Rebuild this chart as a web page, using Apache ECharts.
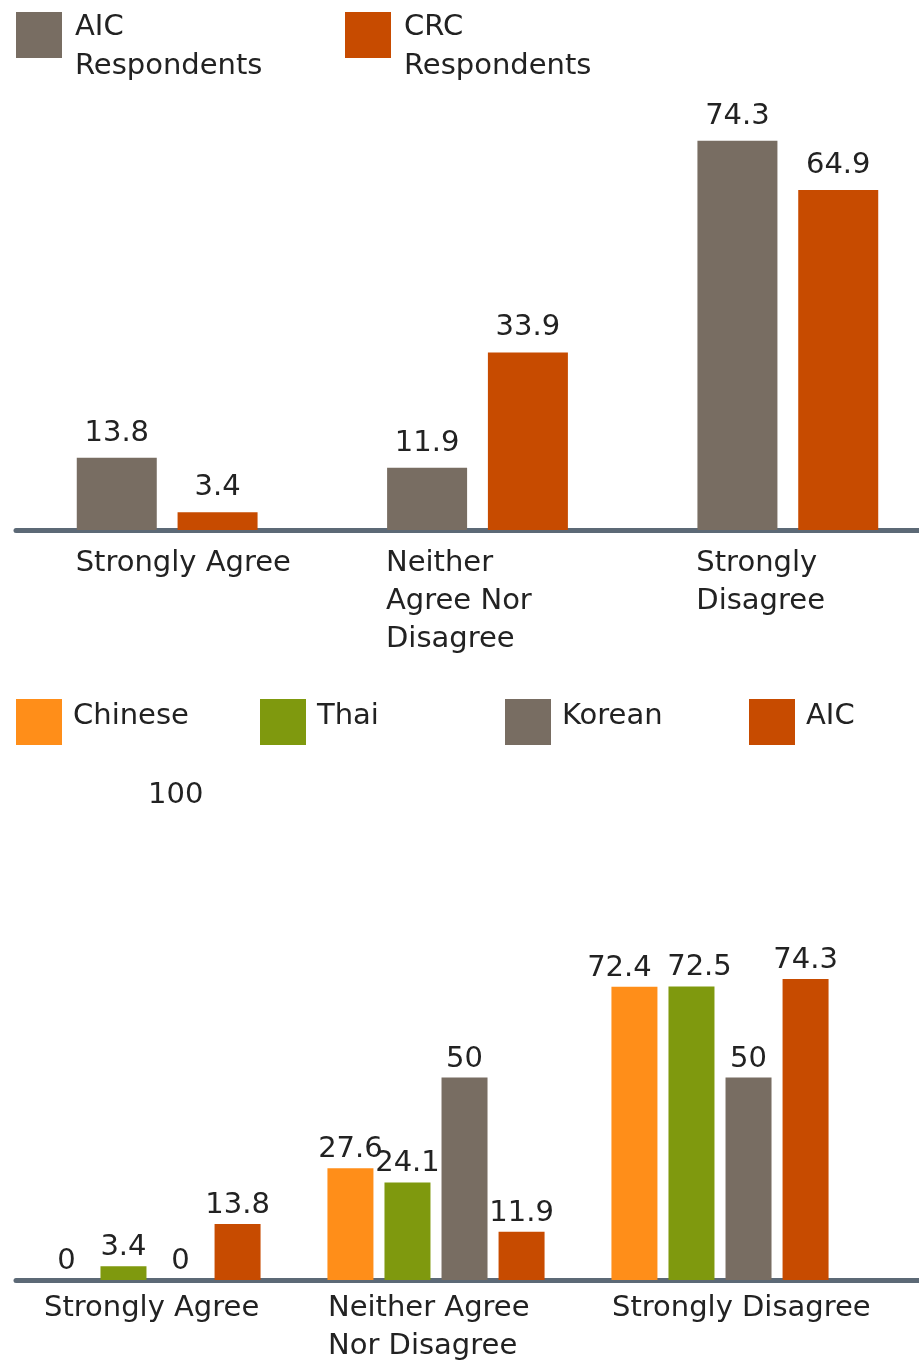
<!DOCTYPE html>
<html>
<head>
<meta charset="utf-8">
<script src="https://cdn.jsdelivr.net/npm/echarts@6/dist/echarts.min.js"></script>
<style>html,body{margin:0;padding:0;background:#fff;}#c{width:919px;height:1363px;}</style>
</head>
<body>
<div id="c"></div>
<script>
// ---- data ----
const topCategories = ['Strongly Agree', 'Neither Agree Nor Disagree', 'Strongly Disagree'];
const topTickLabels = ['Strongly Agree', 'Neither\nAgree Nor\nDisagree', 'Strongly\nDisagree'];
const topSeriesNames = ['AIC Respondents', 'CRC Respondents'];
const aicRespondents = [13.8, 11.9, 74.3];
const crcRespondents = [3.4, 33.9, 64.9];

const botCategories = ['Strongly Agree', 'Neither Agree Nor Disagree', 'Strongly Disagree'];
const botTickLabels = ['Strongly Agree', 'Neither Agree\nNor Disagree', 'Strongly Disagree'];
const botSeriesNames = ['Chinese', 'Thai', 'Korean', 'AIC'];
const chinese = [0, 27.6, 72.4];
const thai = [3.4, 24.1, 72.5];
const korean = [0, 50, 50];
const aic = [13.8, 11.9, 74.3];
const botAxisMaxLabel = '100';

// ---- style ----
const FONT = 'DejaVu Sans';
const TXT = '#222222';
const GREY = '#786D62';
const RUST = '#C74B00';
const ORANGE = '#FF8E19';
const OLIVE = '#7F990E';
const AXIS = '#5C6976';
// horizontal label nudges (style only), per series / category index
const labelNudge = {Chinese: {2: -15}, Thai: {2: 8}};
// legend swatch shapes: square plus a tiny invisible dot that extends the icon box
const ICON_TOP = 'path://M0,0H46V46H0Z M0,70H0.01V70.01H0Z';
const ICON_BOT = 'path://M0,12H46V58H0Z M0,0H0.01V0.01H0Z';

const chart = echarts.init(document.getElementById('c'), null, {renderer: 'canvas'});

function tickFormatter(labels) {
  return function (v, i) {
    return labels[i].split('\n').map(l => '{a|' + l + '}').join('\n');
  };
}

function legendTop(name, left, top) {
  return {
    data: [name], left: left, top: top, padding: 0, itemWidth: 46, itemHeight: 70,
    icon: ICON_TOP, symbolKeepAspect: false, selectedMode: false,
    formatter: n => n.replace(' ', '\n'),
    textStyle: {fontFamily: FONT, fontSize: 29, color: TXT, lineHeight: 39, padding: [0, 0, 0, 8]}
  };
}
function legendBot(name, left, top) {
  return {
    data: [name], left: left, top: top, padding: 0, itemWidth: 46, itemHeight: 58,
    icon: ICON_BOT, symbolKeepAspect: false, selectedMode: false,
    textStyle: {fontFamily: FONT, fontSize: 29, color: TXT, lineHeight: 39, padding: [0, 0, 0, 6]}
  };
}

const labelStyle = (dist) => ({
  show: true, position: 'top', distance: dist,
  fontFamily: FONT, fontSize: 29, color: TXT
});

function barData(name, values) {
  const nudge = labelNudge[name] || {};
  return values.map((v, i) => nudge[i] !== undefined ? {value: v, label: {offset: [nudge[i], 0]}} : v);
}

const option = {
  animation: false,
  backgroundColor: '#ffffff',
  title: {
    text: botAxisMaxLabel, left: 148, top: 781, padding: 0,
    textStyle: {fontFamily: FONT, fontSize: 29, fontWeight: 'normal', color: TXT}
  },
  legend: [
    legendTop(topSeriesNames[0], 16, 8),
    legendTop(topSeriesNames[1], 345, 8),
    legendBot(botSeriesNames[0], 16, 687),
    legendBot(botSeriesNames[1], 260, 687),
    legendBot(botSeriesNames[2], 505, 687),
    legendBot(botSeriesNames[3], 749, 687)
  ],
  grid: [
    {left: 12, width: 931, top: 111, bottom: 833, outerBoundsMode: 'none'},
    {left: 16, right: 0, top: 111, bottom: 833, outerBoundsMode: 'none'},
    {left: 10, width: 852, top: 875, bottom: 83, outerBoundsMode: 'none'},
    {left: 16, right: 0, top: 875, bottom: 83, outerBoundsMode: 'none'}
  ],
  xAxis: [
    {
      gridIndex: 0, type: 'category', data: topCategories,
      axisLine: {show: false}, axisTick: {show: false},
      axisLabel: {
        margin: 14, align: 'center', formatter: tickFormatter(topTickLabels),
        rich: {a: {width: 183, align: 'left', fontFamily: FONT, fontSize: 29, lineHeight: 38, color: TXT}}
      }
    },
    {
      gridIndex: 1, type: 'value', min: 0, max: 1,
      axisLine: {show: true, lineStyle: {color: AXIS, width: 5}},
      axisTick: {show: false}, axisLabel: {show: false}, splitLine: {show: false}
    },
    {
      gridIndex: 2, type: 'category', data: botCategories,
      axisLine: {show: false}, axisTick: {show: false},
      axisLabel: {
        margin: 9, align: 'center', formatter: tickFormatter(botTickLabels),
        rich: {a: {width: 216, align: 'left', fontFamily: FONT, fontSize: 29, lineHeight: 38, color: TXT}}
      }
    },
    {
      gridIndex: 3, type: 'value', min: 0, max: 1,
      axisLine: {show: true, lineStyle: {color: AXIS, width: 5}},
      axisTick: {show: false}, axisLabel: {show: false}, splitLine: {show: false}
    }
  ],
  yAxis: [
    {gridIndex: 0, type: 'value', min: 0, max: 80, show: false},
    {gridIndex: 1, type: 'value', show: false},
    {gridIndex: 2, type: 'value', min: 0, max: 100, show: false},
    {gridIndex: 3, type: 'value', show: false}
  ],
  series: [
    {name: topSeriesNames[0], type: 'bar', xAxisIndex: 0, yAxisIndex: 0, data: barData(topSeriesNames[0], aicRespondents),
      barWidth: 80, barGap: '26%', itemStyle: {color: GREY}, label: labelStyle(10)},
    {name: topSeriesNames[1], type: 'bar', xAxisIndex: 0, yAxisIndex: 0, data: barData(topSeriesNames[1], crcRespondents),
      barWidth: 80, barGap: '26%', itemStyle: {color: RUST}, label: labelStyle(10)},
    {name: botSeriesNames[0], type: 'bar', xAxisIndex: 2, yAxisIndex: 2, data: barData(botSeriesNames[0], chinese),
      barWidth: 46, barGap: '24%', itemStyle: {color: ORANGE}, label: labelStyle(4)},
    {name: botSeriesNames[1], type: 'bar', xAxisIndex: 2, yAxisIndex: 2, data: barData(botSeriesNames[1], thai),
      barWidth: 46, barGap: '24%', itemStyle: {color: OLIVE}, label: labelStyle(4)},
    {name: botSeriesNames[2], type: 'bar', xAxisIndex: 2, yAxisIndex: 2, data: barData(botSeriesNames[2], korean),
      barWidth: 46, barGap: '24%', itemStyle: {color: GREY}, label: labelStyle(4)},
    {name: botSeriesNames[3], type: 'bar', xAxisIndex: 2, yAxisIndex: 2, data: barData(botSeriesNames[3], aic),
      barWidth: 46, barGap: '24%', itemStyle: {color: RUST}, label: labelStyle(4)}
  ]
};
chart.setOption(option);
</script>
</body>
</html>
